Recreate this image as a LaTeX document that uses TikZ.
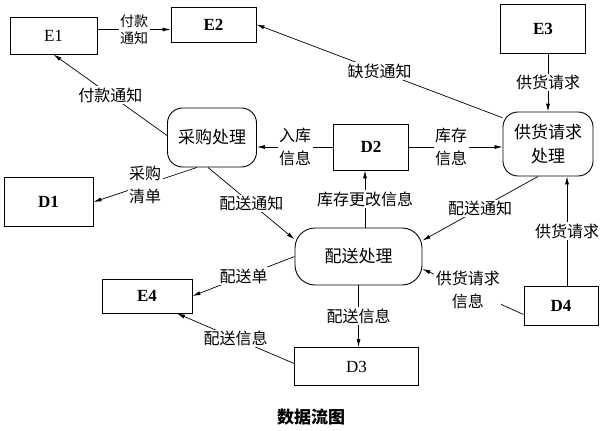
\documentclass[tikz,border=0pt]{standalone}
\usepackage{fontspec}
\setmainfont{Liberation Serif}
\newfontfamily\cjk{Noto Sans CJK SC}
\usetikzlibrary{arrows.meta,calc}
\tikzset{
  ent/.style={draw, line width=0.9pt, rectangle, inner sep=0pt, font=\fontsize{17}{20}\selectfont\bfseries},
  proc/.style={draw, line width=0.9pt, rectangle, rounded corners=15pt, inner sep=0pt, align=center, font=\cjk\fontsize{17}{24}\selectfont},
  lbl/.style={fill=white, inner sep=1.5pt, align=center, font=\cjk\fontsize{16}{23}\selectfont},
  slbl/.style={fill=white, inner sep=1.5pt, align=center, font=\cjk\fontsize{14}{17}\selectfont},
  flow/.style={line width=0.7pt, -{Latex[length=8pt,width=4pt]}}
}
\begin{document}
\begin{tikzpicture}[x=1pt,y=-1pt]
\useasboundingbox (0,0) rectangle (603,431);
% entities and stores
\node[ent, font=\fontsize{17}{20}\selectfont, minimum width=87pt, minimum height=37pt] (E1) at (53.5,35.5) {E1};
\node[ent, minimum width=85pt, minimum height=35pt] (E2) at (213.5,24.5) {E2};
\node[ent, minimum width=85pt, minimum height=49pt] (E3) at (543,28.5) {E3};
\node[ent, minimum width=89pt, minimum height=49pt] (D1) at (48.5,202) {D1};
\node[ent, minimum width=75pt, minimum height=46pt] (D2) at (371,147) {D2};
\node[ent, font=\fontsize{17}{20}\selectfont, minimum width=124pt, minimum height=38pt] (D3) at (356.5,366.5) {D3};
\node[ent, minimum width=74pt, minimum height=39pt] (D4) at (561,305.5) {D4};
\node[ent, minimum width=90pt, minimum height=34pt] (E4) at (147,296) {E4};
% processes
\node[proc, minimum width=89pt, minimum height=59pt] (cg) at (212,137.5) {采购处理};
\node[proc, minimum width=90pt, minimum height=64pt] (gh) at (548,144) {供货请求\\处理};
\node[proc, rounded corners=20pt, minimum width=127pt, minimum height=57pt] (ps) at (358.5,256.5) {配送处理};
% flows
\draw[flow] ([yshift=6pt]E1.east) -- node[slbl] {付款\\通知} ([yshift=-5pt]E2.west);
\draw[flow] ([yshift=2pt]cg.west) -- node[lbl] {付款通知} (E1.south);
\draw[flow] (gh.150) -- node[lbl] {缺货通知} (E2.east);
\draw[flow] (gh.north |- E3.south) -- node[lbl] {供货请求} (gh.north);
\draw[flow] (D2.west) -- node[lbl] {入库\\信息} (D2.west -| cg.east);
\draw[flow] (D2.east) -- node[lbl, pos=0.45] {库存\\信息} (D2.east -| gh.west);
\coordinate (d2b) at ([xshift=-6pt]D2.south);
\draw[flow] (d2b |- ps.north) -- node[lbl] {库存更改信息} (d2b);
\draw[flow] ([xshift=-15pt]cg.south) -- node[lbl] {采购\\清单} (D1.east);
\draw[flow] ([xshift=-4pt]cg.south) -- node[lbl] {配送通知} (ps.165);
\draw[flow] ([xshift=-10pt]gh.south) -- node[lbl] {配送通知} (ps.14);
\coordinate (d4t) at ([xshift=6pt]D4.north);
\draw[flow] (d4t) -- node[lbl] {供货请求} (d4t |- gh.south);
\draw[flow] ([yshift=-9pt]D4.west) -- node[lbl, pos=0.55] {供货请求\\信息} (ps.-11);
\draw[flow] (ps.west) -- node[lbl] {配送单} (E4.east);
\draw[flow] (ps.south) -- node[lbl] {配送信息} (ps.south |- D3.north);
\draw[flow] ([yshift=3pt]D3.west) -- node[lbl] {配送信息} ([xshift=30pt]E4.south);
% caption
\node[font=\cjk\bfseries\fontsize{17}{20}\selectfont] (cap) at (311,417) {数据流图};
\end{tikzpicture}
\end{document}
